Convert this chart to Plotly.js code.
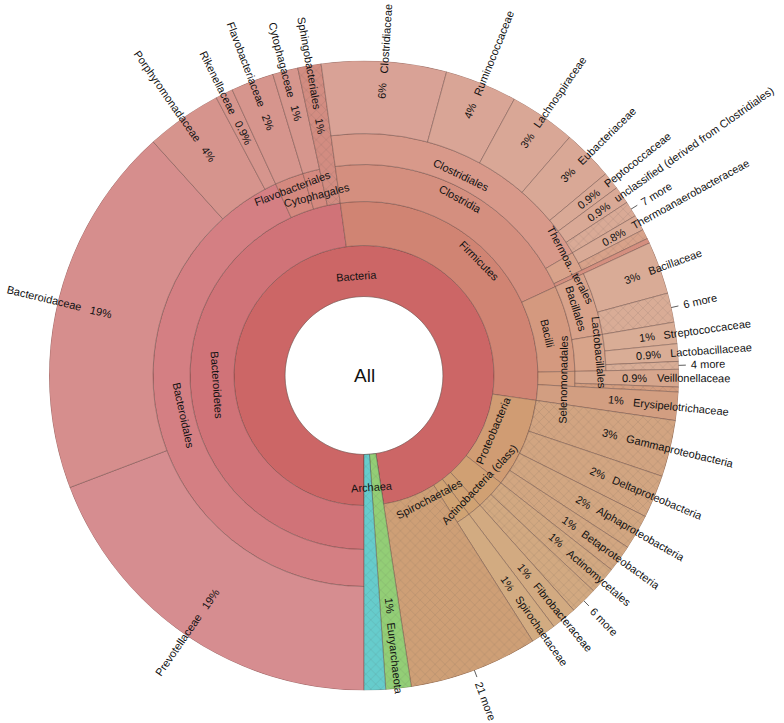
<!DOCTYPE html>
<html>
<head>
<meta charset="utf-8">
<script src="https://cdn.plot.ly/plotly-3.0.1.min.js"></script>
<style>
  html, body { margin: 0; padding: 0; background: #fff; }
  #chart { width: 784px; height: 723px; }
</style>
</head>
<body>
<div id="chart"></div>
<script>
// Krona-style taxonomy rings, shares in % of all classified reads

const nodeIds = [
    'All',
    'Bacteria',
    'Bacteroidetes', 'Bacteroidales', 'Prevotellaceae', 'Bacteroidaceae', 'Porphyromonadaceae', 'Rikenellaceae',
    'Flavobacteriales', 'Flavobacteriaceae', 'Cytophagales', 'Cytophagaceae', 'Sphingobacteriales',
    'Firmicutes', 'Clostridia', 'Clostridiales', 'Clostridiaceae', 'Ruminococcaceae', 'Lachnospiraceae',
    'Eubacteriaceae', 'Peptococcaceae', 'unclassified (derived from Clostridiales)', 'Clostridiales/more',
    'Thermoanaerobacterales', 'Thermoanaerobacteraceae', 'Thermoanaerobacterales/rest', 'Clostridia/rest',
    'Bacilli', 'Bacillales', 'Bacillaceae', 'Bacillales/more',
    'Lactobacillales', 'Streptococcaceae', 'Lactobacillaceae', 'Lactobacillales/more',
    'Selenomonadales', 'Veillonellaceae', 'Selenomonadales/rest', 'Erysipelotrichaceae',
    'Proteobacteria', 'Gammaproteobacteria', 'Deltaproteobacteria', 'Alphaproteobacteria', 'Betaproteobacteria',
    'Actinobacteria (class)', 'Actinomycetales', 'Actinobacteria/more',
    'Fibrobacteres', 'Fibrobacteraceae', 'Spirochaetales', 'Spirochaetaceae',
    'Bacteria/more',
    'Archaea', 'Euryarchaeota', 'Archaea/rest'
];

const nodeParents = [
    '',
    'All',
    'Bacteria', 'Bacteroidetes', 'Bacteroidales', 'Bacteroidales', 'Bacteroidales', 'Bacteroidales',
    'Bacteroidetes', 'Flavobacteriales', 'Bacteroidetes', 'Cytophagales', 'Bacteroidetes',
    'Bacteria', 'Firmicutes', 'Clostridia', 'Clostridiales', 'Clostridiales', 'Clostridiales',
    'Clostridiales', 'Clostridiales', 'Clostridiales', 'Clostridiales',
    'Clostridia', 'Thermoanaerobacterales', 'Thermoanaerobacterales', 'Clostridia',
    'Firmicutes', 'Bacilli', 'Bacillales', 'Bacillales',
    'Bacilli', 'Lactobacillales', 'Lactobacillales', 'Lactobacillales',
    'Firmicutes', 'Selenomonadales', 'Selenomonadales', 'Firmicutes',
    'Bacteria', 'Proteobacteria', 'Proteobacteria', 'Proteobacteria', 'Proteobacteria',
    'Bacteria', 'Actinobacteria (class)', 'Actinobacteria (class)',
    'Bacteria', 'Fibrobacteres', 'Bacteria', 'Spirochaetales',
    'Bacteria',
    'All', 'Archaea', 'Archaea'
];

// leaf shares (%); inner nodes are summed from their children
const nodeValues = [
    0,
    0,
    0, 0, 19.2, 19.1, 3.9, 0.9,
    0, 2.2, 0, 1.3, 1.2,
    0, 0, 0, 6.4, 3.7, 3.4,
    2.6, 0.9, 0.9, 0.8,
    0, 0.8, 0.5, 0.25,
    0, 0, 2.7, 1.5,
    0, 1.1, 0.9, 0.4,
    0, 0.9, 0.25, 1.45,
    0, 2.9, 2.2, 1.8, 1.4,
    0, 1.4, 1.4,
    0, 1.3, 0, 1.3,
    6.6,
    0, 1.3, 1.1
];

// text drawn for each node ('' = none)
const nodeLabels = [
    'All',
    'Bacteria',
    'Bacteroidetes', 'Bacteroidales', 'Prevotellaceae', 'Bacteroidaceae', 'Porphyromonadaceae', 'Rikenellaceae',
    'Flavobacteriales', 'Flavobacteriaceae', 'Cytophagales', 'Cytophagaceae', 'Sphingobacteriales',
    'Firmicutes', 'Clostridia', 'Clostridiales', 'Clostridiaceae', 'Ruminococcaceae', 'Lachnospiraceae',
    'Eubacteriaceae', 'Peptococcaceae', 'unclassified (derived from Clostridiales)', '7 more',
    'Thermoa...terales', 'Thermoanaerobacteraceae', '', '',
    'Bacilli', 'Bacillales', 'Bacillaceae', '6 more',
    'Lactobacillales', 'Streptococcaceae', 'Lactobacillaceae', '4 more',
    'Selenomonadales', 'Veillonellaceae', '', 'Erysipelotrichaceae',
    'Proteobacteria', 'Gammaproteobacteria', 'Deltaproteobacteria', 'Alphaproteobacteria', 'Betaproteobacteria',
    'Actinobacteria (class)', 'Actinomycetales', '6 more',
    '', 'Fibrobacteraceae', 'Spirochaetales', 'Spirochaetaceae',
    '21 more',
    'Archaea', 'Euryarchaeota', ''
];

// ---- look
const W = 784, H = 723;
const CX = 364, CY = 375.5;                 // centre, page px from top-left
const RADII = [0, 79, 130, 174, 211, 242];  // inner radius per depth
const RIM = 315;
const FONT = 'Liberation Sans, Arial, sans-serif';
const TEXT_SIZE = 11;

const TOP_HUE = { Bacteria: 0, Archaea: 180 };
const GROUP_HUE = {
    Bacteroidetes: [-3, 8], Firmicutes: [11, 22], Proteobacteria: [26, 28],
    'Actinobacteria (class)': [29, 30], Fibrobacteres: [30, 31], Spirochaetales: [31, 32],
    'Bacteria/more': [28, 28], Euryarchaeota: [100, 100], 'Archaea/rest': [180, 180]
};
const LIGHT = [100, 60, 63.5, 66.5, 69.5, 72];

const HATCHED = [
    'Sphingobacteriales', 'Clostridiales/more', 'Thermoanaerobacterales/rest', 'Bacillales/more',
    'Lactobacillales/more', 'Selenomonadales/rest', 'Gammaproteobacteria', 'Deltaproteobacteria',
    'Alphaproteobacteria', 'Betaproteobacteria', 'Actinomycetales', 'Actinobacteria/more',
    'Bacteria/more', 'Euryarchaeota', 'Archaea/rest'
];
// Krona paints the archaeal children right down to the first ring
const FROM_PARENT_INNER = ['Euryarchaeota', 'Archaea/rest'];

// inner labels Krona staggers off the ring middle
const LABEL_R = {
    Bacteria: 100, Archaea: 112, Bacteroidetes: 147, Firmicutes: 163, Proteobacteria: 140,
    'Actinobacteria (class)': 159, Spirochaetales: 140, Bacteroidales: 185, Flavobacteriales: 201,
    Cytophagales: 186, Clostridia: 201, Bacilli: 188, Selenomonadales: 199, Clostridiales: 223,
    Thermoanaerobacterales: 234, Bacillales: 222, Lactobacillales: 236
};
const LABEL_SHIFT = { Spirochaetales: 7 };

// ---- tree
const nodes = nodeIds.map((id, i) => ({
    id, parent: nodeParents[i], value: nodeValues[i], label: nodeLabels[i], children: []
}));
const byId = {};
nodes.forEach(n => { byId[n.id] = n; });
nodes.forEach(n => { if (n.parent) byId[n.parent].children.push(n); });

function sumUp(n) {
    if (n.children.length) n.value = n.children.reduce((s, c) => s + sumUp(c), 0);
    return n.value;
}
const root = byId['All'];
sumUp(root);

function place(n, start, depth) {
    n.start = start;
    n.span = n.value / root.value * 360;
    n.depth = depth;
    n.inner = RADII[depth];
    n.outer = n.children.length ? RADII[depth + 1] : RIM;
    let s = start;
    n.children.forEach(c => { place(c, s, depth + 1); s += c.span; });
}
place(root, 0, 0);

function groupOf(n) {
    while (n.depth > 2) n = byId[n.parent];
    return n;
}

function hslOf(n) {
    if (n.depth === 0) return { h: 0, s: 0, l: 100 };
    if (n.id.endsWith('/rest')) return hslOf(byId[n.parent]);
    if (n.depth === 1) return { h: TOP_HUE[n.id], s: 50, l: LIGHT[1] };
    const g = groupOf(n);
    const [h0, h1] = GROUP_HUE[g.id];
    const h = h0 + (h1 - h0) * (n.start - g.start) / g.span;
    return { h: (h + 360) % 360, s: n.children.length ? 50 : 47, l: LIGHT[n.depth] };
}
const hsl = c => `hsl(${c.h.toFixed(1)}, ${c.s}%, ${c.l}%)`;

// ---- geometry helpers (angle clockwise from the bottom, degrees)
const rad = a => a * Math.PI / 180;
const toXY = (a, r) => ({ x: -r * Math.sin(rad(a)), y: -r * Math.cos(rad(a)) });

function upright(t) {
    while (t > 90) t -= 180;
    while (t <= -90) t += 180;
    return t;
}
const radialAngle = a => upright(Math.atan2(Math.cos(rad(a)), -Math.sin(rad(a))) * 180 / Math.PI);
const tangentAngle = a => upright(Math.atan2(-Math.sin(rad(a)), -Math.cos(rad(a))) * 180 / Math.PI);

const ctx = document.createElement('canvas').getContext('2d');
function textWidth(str, size) {
    ctx.font = size + 'px "Liberation Sans"';
    return ctx.measureText(str).width;
}

function pctText(v) {
    const p = v / root.value * 100;
    return (p < 1 ? p.toFixed(1) : String(Math.round(p))) + '%';
}

// ---- wedges
const wedges = { r: [], base: [], theta: [], width: [], color: [], shape: [] };
nodes.forEach(n => {
    const inner = FROM_PARENT_INNER.includes(n.id) ? byId[n.parent].inner : n.inner;
    wedges.base.push(inner);
    wedges.r.push(n.outer - inner);
    wedges.theta.push(n.start + n.span / 2);
    wedges.width.push(n.span);
    wedges.color.push(hsl(hslOf(n)));
    wedges.shape.push(HATCHED.includes(n.id) ? 'x' : '');
});

// ---- labels
const annotations = [];
const leader = { x: [], y: [] };

function addText(text, a, r, angle, size) {
    const p = toXY(a, r);
    annotations.push({
        x: p.x, y: p.y, xref: 'x', yref: 'y', text, textangle: angle,
        showarrow: false, xanchor: 'center', yanchor: 'middle',
        font: { family: FONT, size, color: '#111' }
    });
}

nodes.forEach(n => {
    if (!n.label) return;
    const mid = n.start + n.span / 2;
    if (n.depth === 0) {
        addText(n.label, 0, 0, 0, 19);
    } else if (n.children.length) {
        const a = mid + (LABEL_SHIFT[n.id] || 0);
        const r = LABEL_R[n.id] || (n.inner + n.outer) / 2;
        addText(n.label, a, r, tangentAngle(a), TEXT_SIZE);
    } else if (n.id.endsWith('/more')) {
        const p0 = toXY(mid, 300), p1 = toXY(mid, 322);
        leader.x.push(p0.x, p1.x, null);
        leader.y.push(p0.y, p1.y, null);
        const w = textWidth(n.label, TEXT_SIZE);
        addText(n.label, mid, 327 + w / 2, radialAngle(mid), TEXT_SIZE);
    } else {
        const pct = pctText(n.value);
        const rPct = 170 + 0.478 * n.inner;
        const rName = rPct + textWidth(pct, TEXT_SIZE) / 2 + 9;
        const w = textWidth(n.label, TEXT_SIZE);
        addText(pct, mid, rPct, radialAngle(mid), TEXT_SIZE);
        addText(n.label, mid, rName + w / 2, radialAngle(mid), TEXT_SIZE);
    }
});

const traces = [
    {
        type: 'barpolar',
        r: wedges.r, base: wedges.base, theta: wedges.theta, width: wedges.width,
        marker: {
            color: wedges.color,
            line: { color: 'rgba(90, 60, 55, 0.55)', width: 0.7 },
            pattern: {
                shape: wedges.shape, fillmode: 'overlay',
                fgcolor: 'rgb(70, 40, 30)', fgopacity: 0.18, size: 7, solidity: 0.18
            }
        },
        hoverinfo: 'skip'
    },
    {
        type: 'scatter', mode: 'lines', x: leader.x, y: leader.y,
        line: { color: '#333', width: 0.8 }, hoverinfo: 'skip', showlegend: false
    }
];

const layout = {
    width: W, height: H,
    margin: { t: 0, r: 0, b: 0, l: 0 },
    paper_bgcolor: '#fff', plot_bgcolor: 'rgba(0,0,0,0)',
    showlegend: false,
    polar: {
        domain: { x: [(CX - RIM) / W, (CX + RIM) / W], y: [(H - CY - RIM) / H, (H - CY + RIM) / H] },
        bgcolor: 'rgba(0,0,0,0)',
        bargap: 0,
        radialaxis: { range: [0, RIM], visible: false },
        angularaxis: { rotation: 270, direction: 'clockwise', visible: false, showgrid: false, showline: false, ticks: '' }
    },
    xaxis: { domain: [0, 1], range: [-CX, W - CX], visible: false, fixedrange: true },
    yaxis: { domain: [0, 1], range: [-(H - CY), CY], visible: false, fixedrange: true },
    annotations
};

Plotly.newPlot('chart', traces, layout, { displayModeBar: false, staticPlot: true });
</script>
</body>
</html>
